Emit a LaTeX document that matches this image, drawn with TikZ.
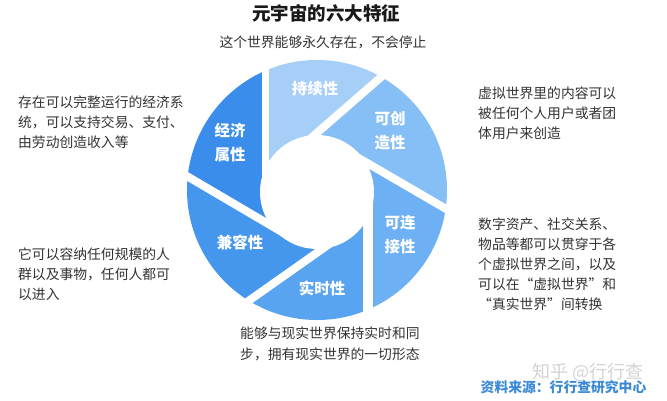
\documentclass[tikz,border=0pt]{standalone}
\usepackage{fontspec}
\setmainfont{Noto Sans CJK SC}
\usetikzlibrary{calc}
\definecolor{bA}{HTML}{A6CFF8}
\definecolor{bB}{HTML}{86BFF6}
\definecolor{bC}{HTML}{6DB0F3}
\definecolor{bD}{HTML}{58A4F1}
\definecolor{bE}{HTML}{4597EE}
\definecolor{bF}{HTML}{3A8DEA}
\definecolor{txt}{HTML}{333333}
\definecolor{src}{HTML}{3B8AD6}
\definecolor{wm}{HTML}{D4D4D4}
\begin{document}
\begin{tikzpicture}[x=1pt,y=-1pt,
  gap/.style={draw=white,line width=8pt},
  lbl/.style={text=white,font=\fontsize{15.5}{24}\selectfont\bfseries,align=center,inner sep=0pt},
  body/.style={text=txt,font=\fontsize{13.8}{20}\selectfont,align=left,anchor=west,inner sep=0pt}]
\fill[white] (0,0) rectangle (667,401);
\path[use as bounding box] (0,0) rectangle (667,401);
\coordinate (C) at (317,191);
\coordinate (P1) at (265.5,191);
\coordinate (Q1) at ($(P1)+(0,-300)$);
\coordinate (P2) at (288.2,158);
\coordinate (Q2) at ($(P2)+300*(0.754,-0.657)$);
\coordinate (P3) at (341.9,148.3);
\coordinate (Q3) at ($(P3)+300*(0.864,0.503)$);
\coordinate (P4) at (368,191);
\coordinate (Q4) at ($(P4)+(0,300)$);
\coordinate (P5) at (346.1,232.2);
\coordinate (Q5) at ($(P5)+300*(-0.818,0.576)$);
\coordinate (P6) at (290.1,236.8);
\coordinate (Q6) at ($(P6)+300*(-0.862,-0.507)$);
\begin{scope}
  \clip (317,190) circle[radius=130pt];
  \fill[bA] (P1)--(Q1)--(Q2)--(P2)--(C)--cycle;
  \fill[bB] (P2)--(Q2)--(Q3)--(P3)--(C)--cycle;
  \fill[bC] (P3)--(Q3)--(Q4)--(P4)--(C)--cycle;
  \fill[bD] (P4)--(Q4)--(Q5)--(P5)--(C)--cycle;
  \fill[bE] (P5)--(Q5)--(Q6)--(P6)--(C)--cycle;
  \fill[bF] (P6)--(Q6)--(Q1)--(P1)--(C)--cycle;
\end{scope}
\draw[gap,line width=7.5pt] (P1)--(Q1);
\draw[gap] (P2)--(Q2);
\draw[gap] (P3)--(Q3);
\draw[gap,line width=9.5pt] (P4)--(Q4);
\draw[gap] (P5)--(Q5);
\draw[gap] (P6)--(Q6);
\fill[white] (317,192) circle[radius=57pt];
\node[lbl] (l1) at (315,89) {持续性};
\node[lbl] (l2) at (390,131) {可创\\造性};
\node[lbl] (l3) at (400,234.5) {可连\\接性};
\node[lbl] (l4) at (322,288) {实时性};
\node[lbl] (l5) at (240,243) {兼容性};
\node[lbl] (l6) at (230,142.5) {经济\\属性};
\node[font=\fontsize{18.5}{20}\selectfont\bfseries,text=black!90,inner sep=0pt] (title) at (326,13) {元宇宙的六大特征};
\node[body,anchor=center] (sub) at (323,42) {这个世界能够永久存在，不会停止};
\node[body] (t1) at (18,122.5) {存在可以完整运行的经济系\\统，可以支持交易、支付、\\由劳动创造收入等};
\node[body] (t2) at (18,274) {它可以容纳任何规模的人\\群以及事物，任何人都可\\以进入};
\node[body] (t3) at (478,113) {虚拟世界里的内容可以\\被任何个人用户或者团\\体用户来创造};
\node[body] (t4) at (478,264) {数字资产、社交关系、\\物品等都可以贯穿于各\\个虚拟世界之间，以及\\可以在“虚拟世界”和\\“真实世界”间转换};
\node[body,font=\fontsize{13.8}{21.5}\selectfont] (t5) at (240,344) {能够与现实世界保持实时和同\\步，拥有现实世界的一切形态};
\node[text=wm,font=\fontsize{18}{20}\selectfont,inner sep=0pt] (wmk) at (588,372) {知乎 @行行查};
\node[text=src,font=\fontsize{13.8}{16}\selectfont\bfseries,inner sep=0pt] (source) at (563.5,387) {资料来源：行行查研究中心};
\end{tikzpicture}
\end{document}
